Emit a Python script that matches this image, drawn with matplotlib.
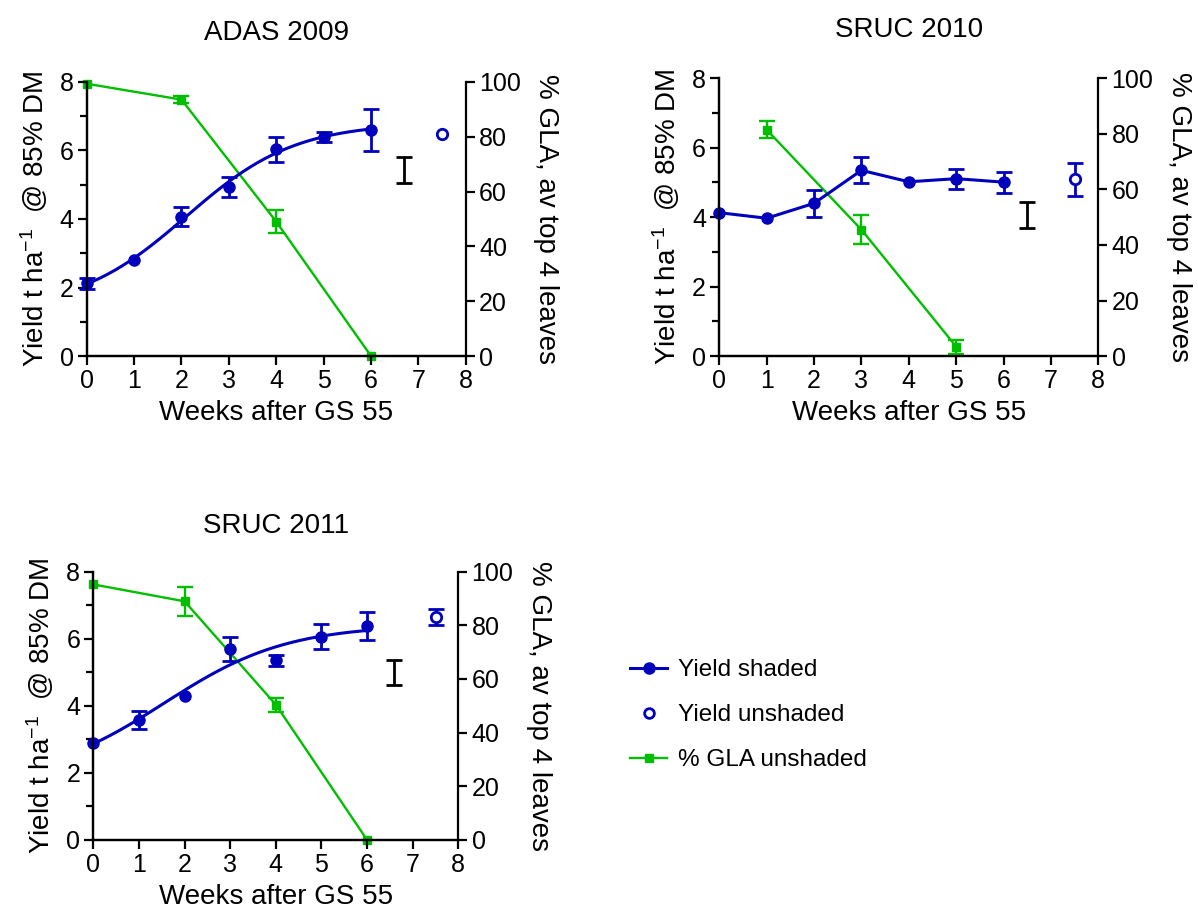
import numpy as np
import matplotlib
matplotlib.use("Agg")
import matplotlib.pyplot as plt
from matplotlib.lines import Line2D

plt.rcParams['font.family'] = ['Liberation Sans', 'DejaVu Sans']
plt.rcParams['mathtext.fontset'] = 'custom'
plt.rcParams['mathtext.rm'] = 'Liberation Sans'
plt.rcParams['mathtext.it'] = 'Liberation Sans'

BLUE = '#0000bd'
GREEN = '#00bf00'

weeks = [0, 1, 2, 3, 4, 5, 6]
nan = np.nan

# ADAS 2009
adas09_yield = [2.12, 2.80, 4.07, 4.93, 6.03, 6.40, 6.60]
adas09_yield_err = [0.15, nan, 0.27, 0.28, 0.36, 0.15, 0.62]
adas09_unshaded = 6.47
adas09_unshaded_err = nan
adas09_lsd = (6.7, 5.43, 0.38)
adas09_gla_weeks = [0, 2, 4, 6]
adas09_gla = [99.3, 93.5, 49.0, 0.0]
adas09_gla_err = [nan, 1.2, 4.3, nan]

# SRUC 2010
sruc10_yield = [4.13, 3.97, 4.40, 5.35, 5.02, 5.11, 5.01]
sruc10_yield_err = [nan, nan, 0.38, 0.37, nan, 0.29, 0.30]
sruc10_unshaded = 5.09
sruc10_unshaded_err = 0.47
sruc10_lsd = (6.5, 4.07, 0.38)
sruc10_gla_weeks = [1, 3, 5]
sruc10_gla = [81.5, 45.5, 3.4]
sruc10_gla_err = [3.1, 5.3, 2.5]

# SRUC 2011
sruc11_yield = [2.90, 3.58, 4.28, 5.69, 5.35, 6.06, 6.37]
sruc11_yield_err = [nan, 0.27, nan, 0.37, 0.17, 0.38, 0.42]
sruc11_unshaded = 6.64
sruc11_unshaded_err = 0.24
sruc11_lsd = (6.6, 5.0, 0.37)
sruc11_gla_weeks = [0, 2, 4, 6]
sruc11_gla = [95.2, 88.9, 50.4, 0.0]
sruc11_gla_err = [nan, 5.3, 2.6, nan]


def logistic_fit(x, y):
    # y = a + b / (1 + exp(-(x - c) / d)), grid over c, d with linear a, b
    x = np.asarray(x, float)
    y = np.asarray(y, float)
    best = None
    for c in np.linspace(-2, 8, 201):
        for d in np.linspace(0.3, 5, 95):
            s = 1 / (1 + np.exp(-(x - c) / d))
            A = np.column_stack([np.ones_like(x), s])
            coef, *_ = np.linalg.lstsq(A, y, rcond=None)
            sse = np.sum((A @ coef - y) ** 2)
            if best is None or sse < best[0]:
                best = (sse, coef[0], coef[1], c, d)
    _, a, b, c, d = best
    return lambda t: a + b / (1 + np.exp(-(t - c) / d))


def draw_panel(fig, rect, title, yld, yld_err, unsh, unsh_err, lsd,
               gla_x, gla, gla_err, fitted, title_pad=30):
    ax = fig.add_axes(rect)
    ax2 = ax.twinx()
    ax.set_zorder(ax2.get_zorder() + 1)
    ax.patch.set_visible(False)

    # % GLA on the right-hand axis
    ax2.errorbar(gla_x, gla, yerr=gla_err, color=GREEN, lw=1.7, marker='s',
                 ms=6, capsize=5.5, capthick=1.7, elinewidth=1.7, clip_on=False)
    ax2.set_ylim(0, 100)
    ax2.set_yticks([0, 20, 40, 60, 80, 100])

    # yield, shaded plots
    if fitted:
        curve = logistic_fit(weeks, yld)
        xs = np.linspace(0, 6, 200)
        ax.plot(xs, curve(xs), color=BLUE, lw=2.2)
        ax.errorbar(weeks, yld, yerr=yld_err, color=BLUE, ls='none', marker='o',
                    ms=8, capsize=5.5, capthick=2, elinewidth=2, clip_on=False)
    else:
        ax.errorbar(weeks, yld, yerr=yld_err, color=BLUE, lw=2.2, marker='o',
                    ms=8, capsize=5.5, capthick=2, elinewidth=2, clip_on=False)
    # yield, unshaded
    ax.errorbar([7.5], [unsh], yerr=[unsh_err], color=BLUE, ls='none',
                marker='o', ms=7.5, mfc='white', mec=BLUE, mew=2,
                capsize=5.5, capthick=2, elinewidth=2, clip_on=False)
    # LSD bar
    ax.errorbar([lsd[0]], [lsd[1]], yerr=[lsd[2]], color='black', ls='none',
                capsize=6, capthick=2, elinewidth=2)

    ax.set_xlim(0, 8)
    ax.set_ylim(0, 8)
    ax.set_xticks(range(0, 9))
    ax.set_yticks([0, 2, 4, 6, 8])
    ax.set_yticks([1, 3, 5, 7], minor=True)

    for a in (ax, ax2):
        a.spines['top'].set_visible(False)
        for s in a.spines.values():
            s.set_linewidth(1.6)
        a.tick_params(which='major', length=6.5, width=1.6, labelsize=18, pad=3)
        a.tick_params(which='minor', length=5, width=1.6)
    ax.spines['right'].set_visible(False)

    ax.set_xlabel('Weeks after GS 55', fontsize=20, labelpad=5)
    ax.set_ylabel('Yield t ha$^{-1}$  @ 85% DM', fontsize=20, labelpad=7)
    ax2.set_ylabel('% GLA, av top 4 leaves', fontsize=20, rotation=-90,
                   va='bottom', labelpad=9)
    ax.set_title(title, fontsize=20, pad=title_pad)
    return ax


fig = plt.figure(figsize=(11.98, 9.13), dpi=100)

draw_panel(fig, [0.0724, 0.610, 0.3164, 0.3004], 'ADAS 2009',
           adas09_yield, adas09_yield_err, adas09_unshaded, adas09_unshaded_err,
           adas09_lsd, adas09_gla_weeks, adas09_gla, adas09_gla_err, True)
draw_panel(fig, [0.6004, 0.610, 0.3164, 0.3042], 'SRUC 2010',
           sruc10_yield, sruc10_yield_err, sruc10_unshaded, sruc10_unshaded_err,
           sruc10_lsd, sruc10_gla_weeks, sruc10_gla, sruc10_gla_err, False)
draw_panel(fig, [0.0779, 0.080, 0.3047, 0.2940], 'SRUC 2011',
           sruc11_yield, sruc11_yield_err, sruc11_unshaded, sruc11_unshaded_err,
           sruc11_lsd, sruc11_gla_weeks, sruc11_gla, sruc11_gla_err, True,
           title_pad=28)

handles = [
    Line2D([], [], color=BLUE, lw=2.2, marker='o', ms=8),
    Line2D([], [], color=BLUE, ls='none', marker='o', ms=7, mfc='white', mew=2),
    Line2D([], [], color=GREEN, lw=1.7, marker='s', ms=6),
]
labels = ['Yield shaded', 'Yield unshaded', '% GLA unshaded']
fig.legend(handles, labels, loc='upper left', bbox_to_anchor=(0.508, 0.302),
           frameon=False, fontsize=17.5, handlelength=1.5, handletextpad=0.45,
           labelspacing=0.95)

fig.savefig('out.png', dpi=100)
